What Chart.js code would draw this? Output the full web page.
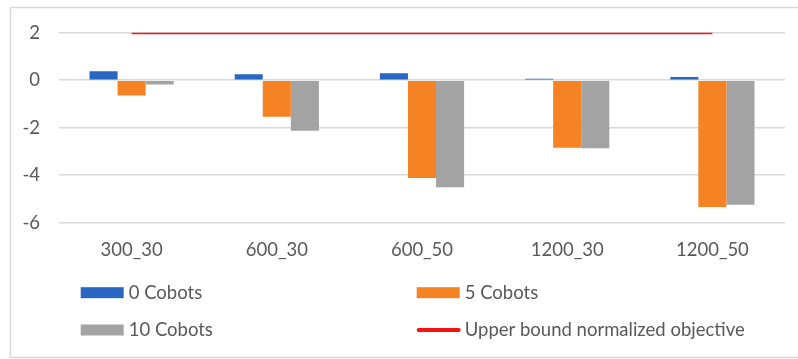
<!DOCTYPE html>
<html>
<head>
<meta charset="utf-8">
<script src="https://cdn.jsdelivr.net/npm/chart.js@4"></script>
<style>
  html, body { margin: 0; padding: 0; background: #ffffff; }
  #wrap { width: 798px; height: 359px; position: relative; }
</style>
</head>
<body>
<div id="wrap"><canvas id="c" width="798" height="359"></canvas></div>
<script>
// Scenario labels (orders_timewindow)
const categories = ['300_30', '600_30', '600_50', '1200_30', '1200_50'];

// Normalized objective per fleet configuration
const cobots0  = [0.38, 0.25, 0.29, 0.06, 0.14];
const cobots5  = [-0.64, -1.54, -4.12, -2.84, -5.34];
const cobots10 = [-0.18, -2.13, -4.51, -2.87, -5.24];
const upperBound = [2, 2, 2, 2, 2];

const seriesNames = ['0 Cobots', '5 Cobots', '10 Cobots', 'Upper bound normalized objective'];
const yTicks = [2, 0, -2, -4, -6];

const FONT = 'Lato, "Open Sans", sans-serif';
const TEXT = '#595959';
const GRID = '#d9d9d9';

// Frame around the whole chart
const framePlugin = {
  id: 'frame',
  beforeDraw(chart) {
    const ctx = chart.ctx;
    ctx.save();
    ctx.fillStyle = '#ffffff';
    ctx.fillRect(0, 0, chart.width, chart.height);
    ctx.strokeStyle = GRID;
    ctx.lineWidth = 1.5;
    ctx.beginPath();
    ctx.moveTo(chart.width + 2, 7.5);
    ctx.lineTo(10.5, 7.5);
    ctx.lineTo(10.5, 357.5);
    ctx.lineTo(chart.width + 2, 357.5);
    ctx.stroke();
    ctx.restore();
  }
};

// Two-column legend below the axis
const gridLegend = {
  id: 'gridLegend',
  afterDraw(chart, args, opts) {
    const ctx = chart.ctx;
    const ds = chart.data.datasets;
    ctx.save();
    ctx.font = opts.font;
    ctx.fillStyle = TEXT;
    ctx.textBaseline = 'middle';
    ctx.textAlign = 'left';
    ds.forEach((d, i) => {
      const col = i % 2, row = Math.floor(i / 2);
      const x = opts.columns[col];
      const y = opts.rows[row];
      if (d.type === 'line') {
        ctx.strokeStyle = d.borderColor;
        ctx.lineWidth = 4;
        ctx.lineCap = 'round';
        ctx.beginPath();
        ctx.moveTo(x + 2, y);
        ctx.lineTo(x + opts.boxWidth - 1, y);
        ctx.stroke();
      } else {
        ctx.fillStyle = d.backgroundColor;
        ctx.fillRect(x, y - opts.boxHeight / 2, opts.boxWidth, opts.boxHeight);
      }
      ctx.fillStyle = TEXT;
      ctx.fillText(d.label, x + opts.boxWidth + 5, y);
    });
    ctx.restore();
  }
};

new Chart(document.getElementById('c'), {
  data: {
    labels: categories,
    datasets: [
      { type: 'bar', label: seriesNames[0], data: cobots0, backgroundColor: '#2a67c2', order: 2 },
      { type: 'bar', label: seriesNames[1], data: cobots5, backgroundColor: '#f58223', order: 2 },
      { type: 'bar', label: seriesNames[2], data: cobots10, backgroundColor: '#a3a3a3', order: 2 },
      { type: 'line', label: seriesNames[3], data: upperBound, borderColor: '#ff1010', backgroundColor: '#ff1010',
        borderWidth: 3, pointRadius: 0, pointHoverRadius: 0, tension: 0, order: 1 }
    ]
  },
  options: {
    responsive: false,
    animation: false,
    devicePixelRatio: 1,
    layout: { padding: { left: 0, right: 13, top: 32.7, bottom: 86.3 } },
    datasets: {
      bar: { categoryPercentage: 0.58, barPercentage: 1.0, borderWidth: 0 }
    },
    scales: {
      x: {
        grid: { display: false, drawTicks: false },
        border: { display: false },
        ticks: { color: TEXT, font: { family: FONT, size: 18.5, lineHeight: 1.6 }, padding: 13, maxRotation: 0 },
        afterFit(scale) { scale.height = 50; }
      },
      y: {
        min: -6,
        max: 2,
        afterBuildTicks(scale) { scale.ticks = yTicks.map(v => ({ value: v })); },
        grid: { color: GRID, lineWidth: 1.5, drawTicks: false },
        border: { display: false },
        ticks: { color: TEXT, font: { family: FONT, size: 18.5 }, padding: 19 },
        afterFit(scale) { scale.width = 59; }
      }
    },
    plugins: {
      legend: { display: false },
      tooltip: { enabled: false },
      gridLegend: {
        font: '18.5px ' + FONT,
        columns: [80.7, 416.7],
        rows: [292.7, 330],
        boxWidth: 43,
        boxHeight: 11
      }
    }
  },
  plugins: [framePlugin, gridLegend]
});
</script>
</body>
</html>
